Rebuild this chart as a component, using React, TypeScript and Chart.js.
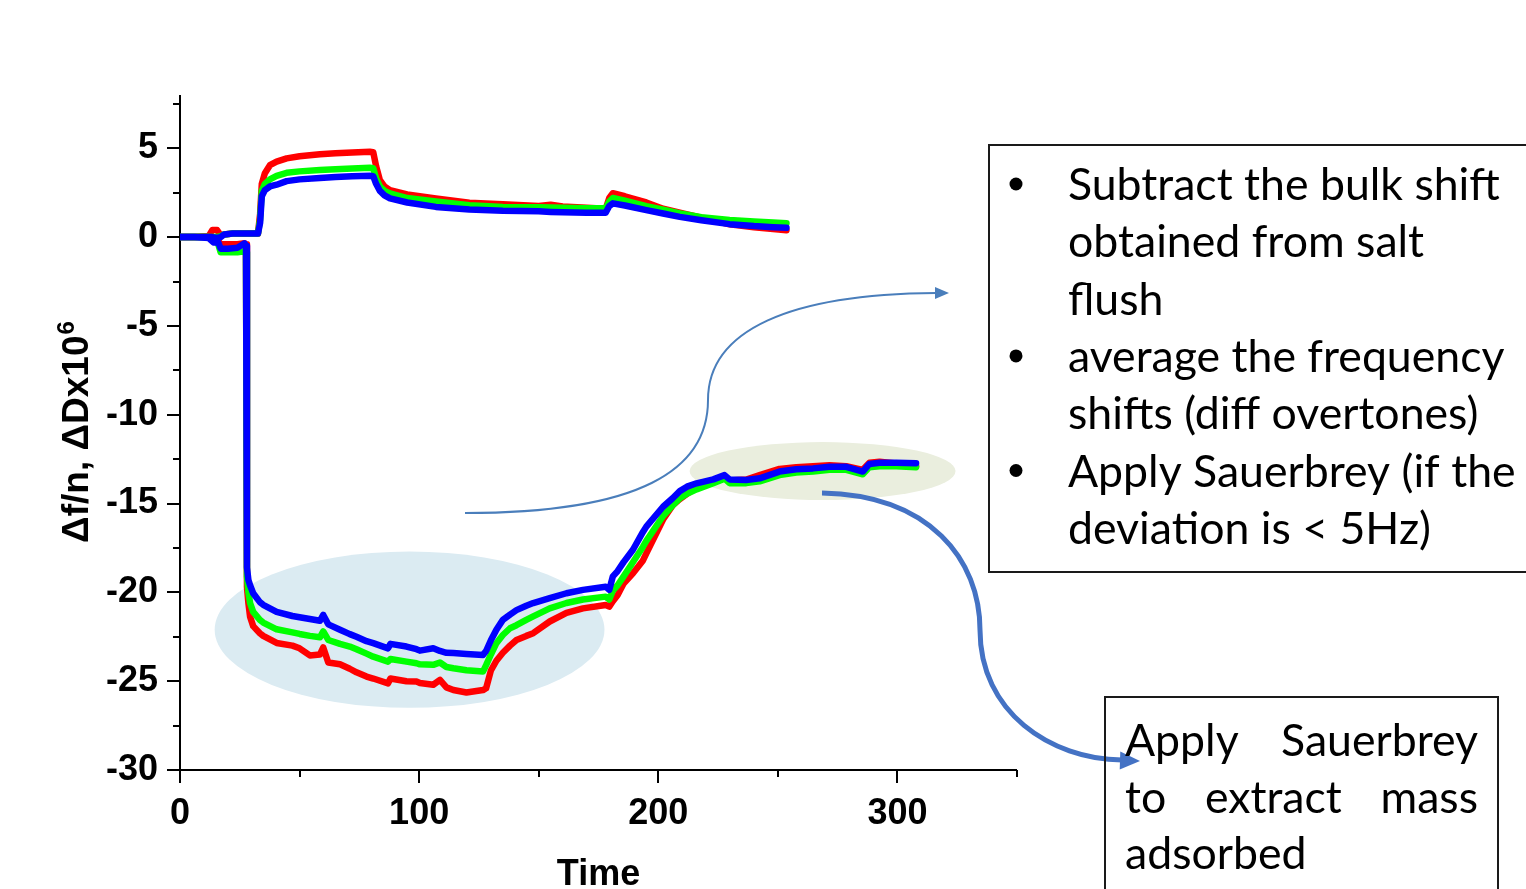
import React, { useEffect, useRef } from 'react';
import { Chart, registerables } from 'chart.js';

Chart.register(...registerables);

// ---------- data ----------
// dissipation group (upper curves), times
const timeD = [0, 6, 12, 13.5, 15.5, 17, 18.5, 22, 27, 32.6, 33.5, 34.2, 35.5, 37.6, 40.4, 44.6, 50, 58.5, 65, 72, 79.4, 80.8, 82, 83.6, 85.5, 87.8, 95, 107, 121, 135, 150, 155, 160, 170, 178, 179.5, 181, 186, 195, 202, 209, 218, 229.8, 240, 248, 253.6];
const dissRed = [0, 0, 0.05, 0.4, 0.4, 0.1, 0.15, 0.2, 0.2, 0.2, 1.3, 3.0, 3.6, 4.05, 4.25, 4.43, 4.55, 4.67, 4.72, 4.76, 4.8, 4.78, 4.0, 3.2, 2.85, 2.64, 2.4, 2.18, 1.93, 1.85, 1.75, 1.82, 1.72, 1.65, 1.6, 2.2, 2.47, 2.3, 1.95, 1.6, 1.38, 1.1, 0.72, 0.55, 0.45, 0.39];
const dissGreen = [0, 0, 0, 0, 0, 0.05, 0.15, 0.2, 0.2, 0.2, 1.0, 2.6, 3.0, 3.25, 3.45, 3.62, 3.7, 3.78, 3.82, 3.86, 3.9, 3.88, 3.3, 2.85, 2.6, 2.46, 2.2, 2.0, 1.8, 1.7, 1.68, 1.66, 1.65, 1.63, 1.62, 2.0, 2.2, 2.05, 1.74, 1.55, 1.33, 1.12, 0.96, 0.88, 0.82, 0.78];
const dissBlue = [0, 0, 0, 0, -0.05, 0, 0.15, 0.2, 0.2, 0.2, 0.8, 2.3, 2.65, 2.85, 2.95, 3.15, 3.25, 3.33, 3.38, 3.42, 3.45, 3.43, 3.0, 2.6, 2.35, 2.18, 1.95, 1.7, 1.56, 1.48, 1.45, 1.42, 1.4, 1.37, 1.37, 1.75, 1.9, 1.78, 1.52, 1.33, 1.14, 0.95, 0.73, 0.62, 0.56, 0.52];

// frequency group (lower curves), times
const timeF = [0, 6, 12, 14, 16, 17, 20, 24, 27, 27.6, 28, 28.6, 29.3, 30.6, 33.4, 34.8, 40.4, 47, 50, 54.3, 58.5, 59.9, 62, 66.9, 71, 73.8, 78, 80.8, 87, 88, 94.7, 98.9, 100.3, 105.9, 108.7, 111.4, 114.3, 119.8, 126.7, 128, 130, 132.3, 135, 138, 140.7, 144.8, 147.7, 154.6, 161.6, 168.5, 178, 179.5, 181, 183, 185.5, 189.4, 193.6, 195, 202, 206, 209, 212, 216, 223, 227.7, 229.8, 236.8, 242.4, 250.7, 257.7, 264.7, 271.6, 278.6, 285.5, 288.3, 292.5, 299.5, 307.8];
const freqRed = [0, 0, 0, 0, -0.2, -0.4, -0.4, -0.4, -0.35, -0.4, -19.7, -20.6, -21.37, -21.9, -22.3, -22.45, -22.85, -23.0, -23.15, -23.55, -23.5, -23.1, -23.95, -24.05, -24.3, -24.5, -24.74, -24.85, -25.12, -24.85, -25.0, -25.02, -25.1, -25.2, -24.93, -25.35, -25.5, -25.64, -25.5, -25.4, -24.4, -23.85, -23.4, -23.0, -22.68, -22.45, -22.3, -21.64, -21.15, -20.9, -20.71, -20.8, -20.5, -20.15, -19.5, -18.93, -18.2, -17.8, -15.9, -15.1, -14.75, -14.45, -14.1, -13.8, -13.55, -13.7, -13.65, -13.4, -13.05, -12.95, -12.9, -12.85, -12.9, -13.1, -12.7, -12.65, -12.75, -12.9];
const freqGreen = [0, 0, 0, -0.15, -0.4, -0.85, -0.85, -0.85, -0.8, -0.85, -19.1, -20.0, -20.6, -21.1, -21.55, -21.7, -22.08, -22.25, -22.34, -22.45, -22.53, -22.2, -22.68, -22.9, -23.05, -23.2, -23.45, -23.62, -23.9, -23.75, -23.9, -23.99, -24.05, -24.08, -23.95, -24.2, -24.27, -24.38, -24.46, -24.1, -23.5, -22.86, -22.4, -22.02, -21.85, -21.55, -21.35, -20.9, -20.6, -20.4, -20.24, -20.4, -19.9, -19.6, -19.1, -18.3, -17.43, -17.1, -15.7, -15.1, -14.7, -14.45, -14.2, -13.85, -13.6, -13.85, -13.85, -13.75, -13.4, -13.25, -13.2, -13.1, -13.1, -13.35, -12.95, -12.9, -12.9, -12.95];
const freqBlue = [0, 0, -0.05, -0.3, -0.3, -0.65, -0.65, -0.6, -0.35, -0.5, -18.6, -19.3, -19.6, -20.05, -20.55, -20.7, -21.1, -21.33, -21.4, -21.5, -21.6, -21.27, -21.8, -22.1, -22.35, -22.5, -22.75, -22.86, -23.15, -22.9, -23.05, -23.2, -23.28, -23.15, -23.3, -23.4, -23.42, -23.47, -23.52, -23.3, -22.7, -22.1, -21.55, -21.25, -21.0, -20.75, -20.6, -20.33, -20.05, -19.86, -19.68, -19.86, -19.1, -18.8, -18.3, -17.6, -16.6, -16.3, -15.18, -14.7, -14.3, -14.05, -13.86, -13.64, -13.4, -13.64, -13.67, -13.58, -13.2, -13.07, -13.02, -12.93, -12.93, -13.2, -12.77, -12.7, -12.7, -12.73];

const xMajorTicks = [0, 100, 200, 300];
const xMinorTicks = [50, 150, 250, 350];
const yMajorTicks = [-30, -25, -20, -15, -10, -5, 0, 5];
const yMinorTicks = [-27.5, -22.5, -17.5, -12.5, -7.5, -2.5, 2.5, 7.5];

const xTitle = 'Time';
const yTitleMain = 'Δf/n, ΔDx10';
const yTitleSup = '6';

const noteLines = [
  { text: 'Subtract the bulk shift', bullet: true },
  { text: 'obtained from salt', bullet: false },
  { text: 'flush', bullet: false },
  { text: 'average the frequency', bullet: true },
  { text: 'shifts (diff overtones)', bullet: false },
  { text: 'Apply Sauerbrey (if the', bullet: true },
  { text: 'deviation is < 5Hz)', bullet: false },
];
const resultLines = [
  { text: 'Apply Sauerbrey', justify: true },
  { text: 'to extract mass', justify: true },
  { text: 'adsorbed', justify: false },
];

// highlight ellipses in data units (centre time, centre value, radius time, radius value)
const highlights = [
  { t: 96, v: -22.1, rt: 81.5, rv: 4.4, color: 'rgb(219,235,242)' },
  { t: 268.7, v: -13.17, rt: 55.6, rv: 1.63, color: 'rgb(234,238,222)' },
];

const RED = '#ff0000';
const GREEN = '#00ff00';
const BLUE = '#0000ff';

function pts(t: number[], v: number[]) {
  return t.map((x, i) => ({ x, y: v[i] }));
}

const AXIS_FONT = '"Liberation Sans", Arial, sans-serif';
const TEXT_FONT = 'Lato, "Open Sans", sans-serif';

function drawArrowHead(ctx: CanvasRenderingContext2D, tipX: number, tipY: number, angle: number, len: number, half: number, color: string) {
  ctx.save();
  ctx.translate(tipX, tipY);
  ctx.rotate(angle);
  ctx.fillStyle = color;
  ctx.beginPath();
  ctx.moveTo(0, 0);
  ctx.lineTo(-len, -half);
  ctx.lineTo(-len, half);
  ctx.closePath();
  ctx.fill();
  ctx.restore();
}

const overlayPlugin = {
  id: 'overlay',
  beforeDatasetsDraw(chart: any) {
    const { ctx, scales } = chart;
    const x = scales.x, y = scales.y;
    for (const e of highlights) {
      const cx = x.getPixelForValue(e.t);
      const cy = y.getPixelForValue(e.v);
      const rx = Math.abs(x.getPixelForValue(e.t + e.rt) - cx);
      const ry = Math.abs(y.getPixelForValue(e.v + e.rv) - cy);
      ctx.save();
      ctx.fillStyle = e.color;
      ctx.beginPath();
      ctx.ellipse(cx, cy, rx, ry, 0, 0, Math.PI * 2);
      ctx.fill();
      ctx.restore();
    }
    // axes
    const area = chart.chartArea;
    ctx.save();
    ctx.strokeStyle = '#000';
    ctx.lineWidth = 2;
    ctx.beginPath();
    ctx.moveTo(area.left, area.top);
    ctx.lineTo(area.left, area.bottom);
    ctx.lineTo(area.right, area.bottom);
    for (const v of yMajorTicks) {
      const py = Math.round(y.getPixelForValue(v));
      ctx.moveTo(area.left - 13, py);
      ctx.lineTo(area.left, py);
    }
    for (const v of yMinorTicks) {
      const py = Math.round(y.getPixelForValue(v));
      ctx.moveTo(area.left - 7, py);
      ctx.lineTo(area.left, py);
    }
    for (const v of xMajorTicks) {
      const px = Math.round(x.getPixelForValue(v));
      ctx.moveTo(px, area.bottom);
      ctx.lineTo(px, area.bottom + 13);
    }
    for (const v of xMinorTicks) {
      const px = Math.round(x.getPixelForValue(v));
      ctx.moveTo(px, area.bottom);
      ctx.lineTo(px, area.bottom + 7);
    }
    ctx.stroke();
    ctx.restore();
  },
  afterDraw(chart: any) {
    const { ctx } = chart;
    const area = chart.chartArea;
    ctx.save();
    ctx.fillStyle = '#000';
    // x title
    ctx.font = `bold 36px ${AXIS_FONT}`;
    ctx.textAlign = 'center';
    ctx.textBaseline = 'alphabetic';
    ctx.fillText(xTitle, (area.left + area.right) / 2, 885);
    // y title rotated
    ctx.save();
    ctx.translate(88, (area.top + area.bottom) / 2);
    ctx.rotate(-Math.PI / 2);
    ctx.font = `bold 37px ${AXIS_FONT}`;
    const wMain = ctx.measureText(yTitleMain).width;
    ctx.font = `bold 24px ${AXIS_FONT}`;
    const wSup = ctx.measureText(yTitleSup).width;
    const start = -(wMain + wSup) / 2;
    ctx.textAlign = 'left';
    ctx.font = `bold 37px ${AXIS_FONT}`;
    ctx.fillText(yTitleMain, start, 0);
    ctx.font = `bold 24px ${AXIS_FONT}`;
    ctx.fillText(yTitleSup, start + wMain + 1, -14);
    ctx.restore();

    // thin connector arrow
    ctx.strokeStyle = '#4a7ebb';
    ctx.lineWidth = 2;
    ctx.beginPath();
    ctx.moveTo(465, 513);
    ctx.bezierCurveTo(640, 513, 708, 470, 708, 400);
    ctx.bezierCurveTo(708, 330, 790, 294, 936, 293);
    ctx.stroke();
    drawArrowHead(ctx, 949, 293, 0, 14, 6, '#4a7ebb');

    // thick arrow
    ctx.strokeStyle = '#4472c4';
    ctx.lineWidth = 5;
    ctx.beginPath();
    ctx.moveTo(822, 493);
    ctx.bezierCurveTo(930, 495, 980, 560, 980, 630);
    ctx.bezierCurveTo(980, 712, 1050, 759, 1122, 760);
    ctx.stroke();
    drawArrowHead(ctx, 1140, 761, 0.03, 20, 9, '#4472c4');

    // note boxes
    ctx.strokeStyle = '#1a1a1a';
    ctx.lineWidth = 2;
    ctx.strokeRect(989, 145, 560, 427);
    ctx.strokeRect(1105, 697, 393, 220);

    // text size calibrated to the note width
    ctx.font = `40px ${TEXT_FONT}`;
    const ref = ctx.measureText(noteLines[0].text).width;
    const fs = (40 * 432) / ref;
    ctx.font = `${fs}px ${TEXT_FONT}`;
    ctx.textAlign = 'left';
    ctx.fillStyle = '#000';
    noteLines.forEach((ln, i) => {
      const base = 200 + i * 57.3;
      ctx.fillText(ln.text, 1068, base);
      if (ln.bullet) {
        ctx.beginPath();
        ctx.arc(1016, base - 16, 6.5, 0, Math.PI * 2);
        ctx.fill();
      }
    });
    const left = 1125, right = 1478;
    resultLines.forEach((ln, i) => {
      const base = 756 + i * 56.5;
      if (ln.justify) {
        const words = ln.text.split(' ');
        const widths = words.map((w) => ctx.measureText(w).width);
        const total = widths.reduce((a, b) => a + b, 0);
        const gap = (right - left - total) / (words.length - 1);
        let px = left;
        words.forEach((w, k) => {
          ctx.fillText(w, px, base);
          px += widths[k] + gap;
        });
      } else {
        ctx.fillText(ln.text, left, base);
      }
    });
    ctx.restore();
  },
};

export default function App() {
  const ref = useRef<HTMLCanvasElement | null>(null);
  useEffect(() => {
    const canvas = ref.current;
    if (!canvas) return;
    const common = { pointRadius: 0, borderWidth: 6.5, tension: 0, fill: false, borderJoinStyle: 'round' as const, borderCapStyle: 'round' as const };
    const chart = new Chart(canvas, {
      type: 'line',
      data: {
        datasets: [
          { label: 'Δf/n (3)', data: pts(timeF, freqRed), borderColor: RED, order: 3, ...common },
          { label: 'Δf/n (5)', data: pts(timeF, freqGreen), borderColor: GREEN, order: 2, ...common },
          { label: 'Δf/n (7)', data: pts(timeF, freqBlue), borderColor: BLUE, order: 1, ...common },
          { label: 'ΔD (3)', data: pts(timeD, dissRed), borderColor: RED, order: 3, ...common },
          { label: 'ΔD (5)', data: pts(timeD, dissGreen), borderColor: GREEN, order: 2, ...common },
          { label: 'ΔD (7)', data: pts(timeD, dissBlue), borderColor: BLUE, order: 1, ...common },
        ],
      },
      options: {
        animation: false,
        responsive: false,
        events: [],
        layout: { padding: { left: 60, right: 509, top: 95, bottom: 0 } },
        plugins: { legend: { display: false }, tooltip: { enabled: false } },
        scales: {
          x: {
            type: 'linear',
            min: 0,
            max: 350,
            afterBuildTicks: (s: any) => { s.ticks = xMajorTicks.map((v) => ({ value: v })); },
            afterFit: (s: any) => { s.height = 119; },
            grid: { display: false, drawTicks: false },
            border: { display: false },
            ticks: { color: '#000', padding: 22, autoSkip: false, maxRotation: 0, font: { family: AXIS_FONT, size: 36, weight: 'bold' } },
          },
          y: {
            type: 'linear',
            min: -30,
            max: 8,
            afterBuildTicks: (s: any) => { s.ticks = yMajorTicks.map((v) => ({ value: v })); },
            afterFit: (s: any) => { s.width = 120; },
            grid: { display: false, drawTicks: false },
            border: { display: false },
            ticks: { color: '#000', padding: 22, font: { family: AXIS_FONT, size: 36, weight: 'bold' } },
          },
        },
      },
      plugins: [overlayPlugin],
    } as any);
    return () => chart.destroy();
  }, []);
  return (
    <div style={{ position: 'fixed', left: 0, top: 0, width: 1526, height: 889, background: '#fff' }}>
      <canvas ref={ref} width={1526} height={889} style={{ display: 'block' }} />
    </div>
  );
}
